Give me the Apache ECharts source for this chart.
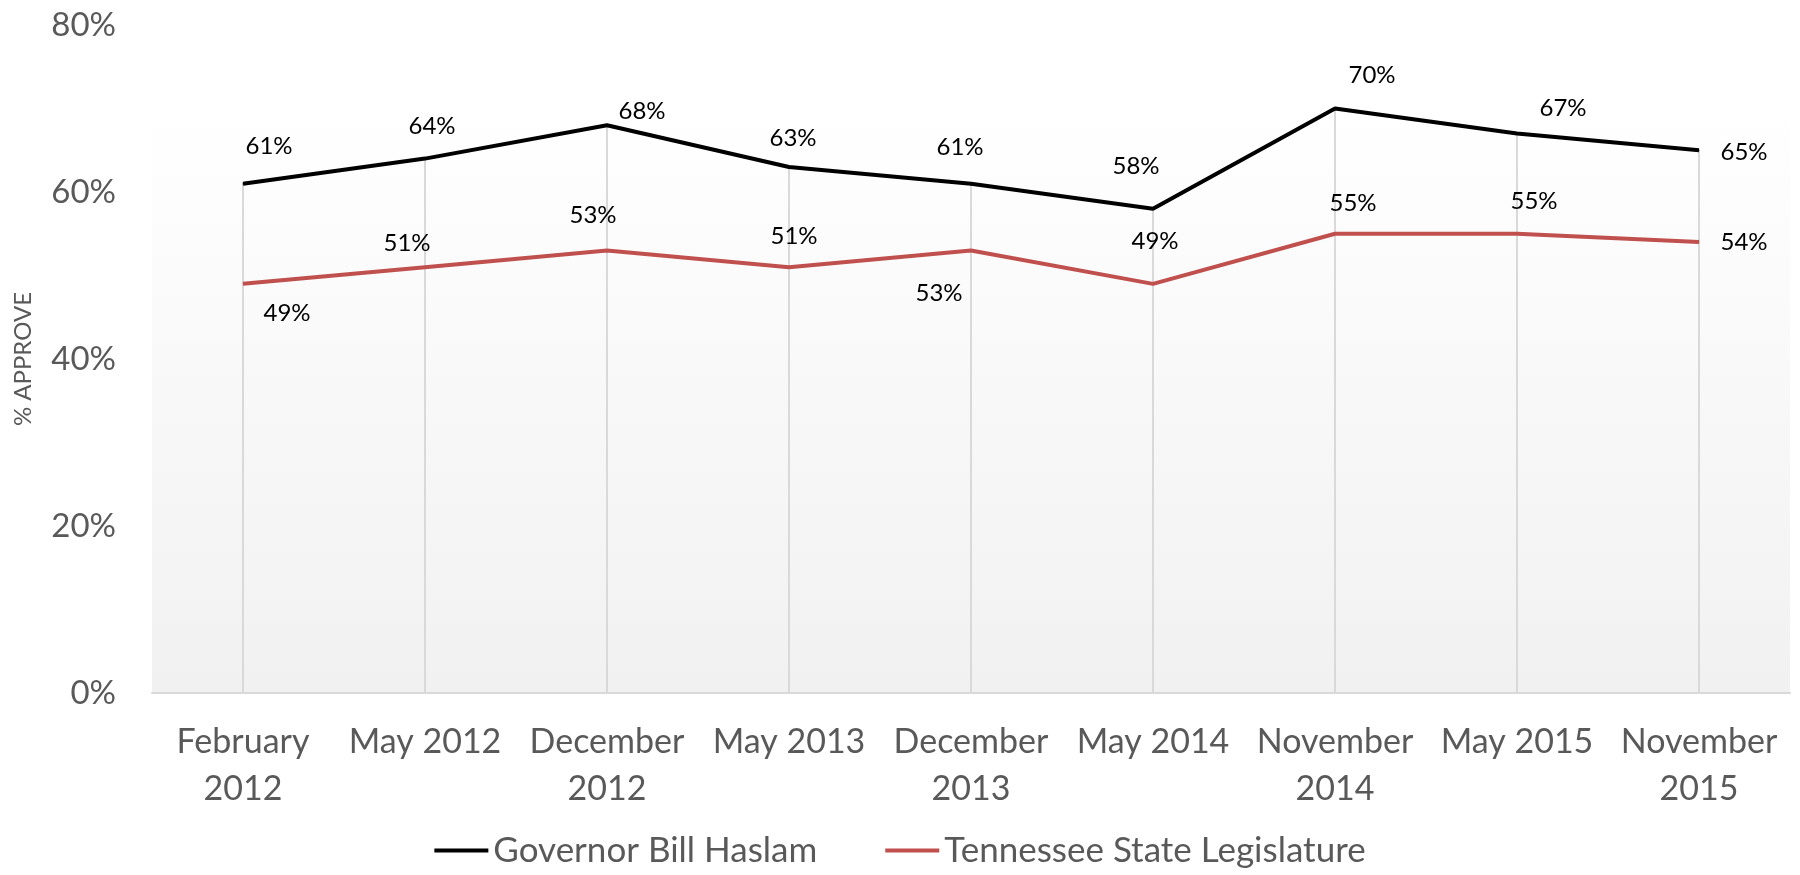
<!DOCTYPE html>
<html>
<head>
<meta charset="utf-8">
<script src="https://cdn.jsdelivr.net/npm/echarts@6/dist/echarts.min.js"></script>
<style>
  html, body { margin: 0; padding: 0; background: #fff; }
  #chart { width: 1800px; height: 875px; }
</style>
</head>
<body>
<div id="chart"></div>
<script>
const categories = ['February\n2012', 'May 2012', 'December\n2012', 'May 2013', 'December\n2013', 'May 2014', 'November\n2014', 'May 2015', 'November\n2015']
const governor = [61, 64, 68, 63, 61, 58, 70, 67, 65]
const legislature = [49, 51, 53, 51, 53, 49, 55, 55, 54]
const yTicks = [0, 20, 40, 60, 80]

// label placement, pixels from the point (Excel put them by hand)
const govLabelOffsets = [[26, -37], [7, -32], [35, -14], [4, -29], [-11, -36], [-17, -42], [37, -33], [46, -25], [45, 2]]
const legLabelOffsets = [[44, 29], [-18, -24], [-14, -35], [5, -31], [-32, 43], [2, -43], [18, -30], [17, -32], [45, 0]]

const font = 'Lato, "Noto Sans", sans-serif'
const withLabels = (values, offsets) => values.map((v, i) => ({
  value: v,
  label: { offset: offsets[i] }
}))

const chart = echarts.init(document.getElementById('chart'))
const option = {
  animation: false,
  textStyle: { fontFamily: font },
  grid: {
    left: 152,
    right: 10,
    top: 25,
    bottom: 182
  },
  graphic: {
    elements: [
      {
        type: 'rect',
        z: -100,
        shape: { x: 152, y: 110, width: 1638, height: 583 },
        style: {
          fill: new echarts.graphic.LinearGradient(0, 0, 0, 1, [
            { offset: 0, color: '#ffffff' },
            { offset: 1, color: '#f1f1f1' }
          ])
        }
      }
    ]
  },
  legend: {
    data: ['Governor Bill Haslam', 'Tennessee State Legislature'],
    bottom: 2,
    left: 'center',
    icon: 'rect',
    itemWidth: 54,
    itemHeight: 4,
    itemGap: 68,
    textStyle: { color: '#595959', fontSize: 35, fontFamily: font }
  },
  xAxis: {
    type: 'category',
    data: categories,
    axisLine: { lineStyle: { color: '#d9d9d9', width: 2 } },
    axisTick: { show: false },
    axisLabel: {
      color: '#595959',
      fontSize: 34,
      lineHeight: 47,
      margin: 26,
      interval: 0
    }
  },
  yAxis: {
    type: 'value',
    min: yTicks[0],
    max: yTicks[yTicks.length - 1],
    interval: 20,
    name: '% APPROVE',
    nameLocation: 'middle',
    nameGap: 117,
    nameTextStyle: { color: '#595959', fontSize: 24 },
    axisLine: { show: false },
    axisTick: { show: false },
    splitLine: { show: false },
    axisLabel: {
      color: '#595959',
      fontSize: 33,
      margin: 36,
      formatter: '{value}%'
    }
  },
  series: [
    {
      // drop lines from the top line to the axis
      name: 'drop',
      type: 'bar',
      data: governor,
      barWidth: 2,
      z: 1,
      silent: true,
      itemStyle: { color: '#d9d9d9' }
    },
    {
      name: 'Governor Bill Haslam',
      type: 'line',
      data: withLabels(governor, govLabelOffsets),
      symbol: 'circle',
      symbolSize: 1,
      z: 3,
      lineStyle: { color: '#000000', width: 4 },
      itemStyle: { color: '#000000' },
      label: {
        show: true,
        position: 'inside',
        formatter: '{c}%',
        color: '#000',
        fontSize: 24
      }
    },
    {
      name: 'Tennessee State Legislature',
      type: 'line',
      data: withLabels(legislature, legLabelOffsets),
      symbol: 'circle',
      symbolSize: 1,
      z: 3,
      lineStyle: { color: '#c0504d', width: 4 },
      itemStyle: { color: '#c0504d' },
      label: {
        show: true,
        position: 'inside',
        formatter: '{c}%',
        color: '#000',
        fontSize: 24
      }
    }
  ]
}
chart.setOption(option)
</script>
</body>
</html>
